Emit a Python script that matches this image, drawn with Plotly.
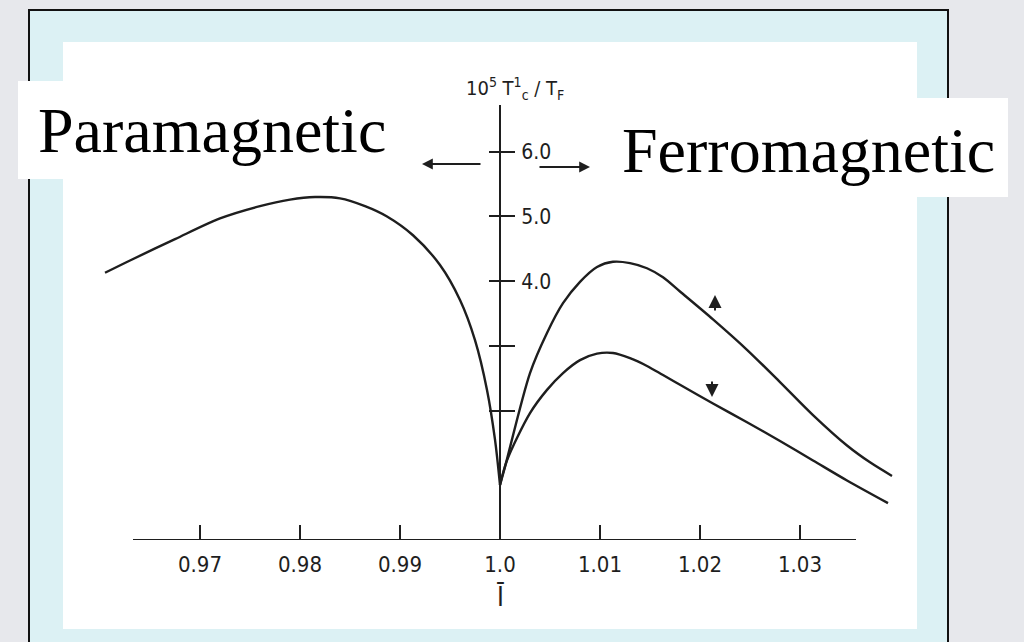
import plotly.graph_objects as go

W, H = 1024, 642

# ---- data ----
para_x = [0.9605, 0.9630, 0.9675, 0.9720, 0.9760, 0.9790, 0.9815, 0.9840, 0.9865, 0.9887,
          0.9913, 0.9940, 0.9960, 0.9975, 0.9987, 0.9995, 1.0]
para_y = [4.13, 4.32, 4.65, 4.97, 5.16, 5.26, 5.30, 5.28, 5.16, 5.00,
          4.71, 4.25, 3.71, 3.09, 2.32, 1.55, 0.85]

up_x = [1.0, 1.0005, 1.0030, 1.0047, 1.0063, 1.0080, 1.0097, 1.0113, 1.0130,
        1.0147, 1.0163, 1.0180, 1.0213, 1.0247, 1.0280, 1.0313, 1.0347, 1.0370, 1.0392]
up_y = [0.85, 1.13, 2.58, 3.20, 3.66, 3.99, 4.22, 4.30, 4.28,
        4.20, 4.06, 3.84, 3.41, 2.94, 2.44, 1.93, 1.46, 1.20, 0.99]

down_x = [1.0, 1.0007, 1.0030, 1.0047, 1.0063, 1.0080, 1.0097, 1.0113, 1.0130, 1.0147,
          1.0163, 1.0180, 1.0213, 1.0247, 1.0280, 1.0313, 1.0347, 1.0388]
down_y = [0.85, 1.23, 1.96, 2.32, 2.58, 2.78, 2.88, 2.89, 2.81, 2.69,
          2.55, 2.40, 2.11, 1.82, 1.53, 1.23, 0.92, 0.57]

x_ticks = [0.97, 0.98, 0.99, 1.0, 1.01, 1.02, 1.03]
x_tick_labels = ["0.97", "0.98", "0.99", "1.0", "1.01", "1.02", "1.03"]
y_ticks_labelled = [4, 5, 6]
y_tick_labels = ["4.0", "5.0", "6.0"]
y_ticks_plain = [2, 3]

x_axis_span = [0.9633, 1.0356]
y_top = 6.723

LINE = "#1e1e1e"
NARROW = "Liberation Sans Narrow, DejaVu Sans Condensed, Arial Narrow, sans-serif"
SERIF = "Liberation Serif, Times New Roman, serif"


def px(xp):
    return xp / W


def py(yp):
    return 1 - yp / H


fig = go.Figure()
for xs, ys in [(para_x, para_y), (up_x, up_y), (down_x, down_y)]:
    fig.add_trace(go.Scatter(x=xs, y=ys, mode="lines",
                             line=dict(color=LINE, width=2.4, shape="spline", smoothing=0.85),
                             hoverinfo="skip", showlegend=False))
# helper trace so the overlaid axis (left half of the crossing ticks) is drawn
fig.add_trace(go.Scatter(x=[1.0], y=[0], yaxis="y2", mode="markers",
                         marker=dict(opacity=0), hoverinfo="skip", showlegend=False))

shapes = [
    dict(type="rect", xref="paper", yref="paper", x0=px(29), x1=px(948), y0=py(660), y1=py(10),
         fillcolor="#dcf1f4", line=dict(color="#111", width=2), layer="below"),
    dict(type="rect", xref="paper", yref="paper", x0=px(63), x1=px(917), y0=py(629), y1=py(42),
         fillcolor="white", line=dict(width=0), layer="below"),
    dict(type="rect", xref="paper", yref="paper", x0=px(18), x1=px(400), y0=py(179), y1=py(81),
         fillcolor="white", line=dict(width=0), layer="below"),
    dict(type="rect", xref="paper", yref="paper", x0=px(605), x1=px(1008), y0=py(197), y1=py(98),
         fillcolor="white", line=dict(width=0), layer="below"),
    dict(type="line", xref="x", yref="y", x0=x_axis_span[0], x1=x_axis_span[1], y0=0, y1=0,
         line=dict(color=LINE, width=2)),
]

annotations = [
    dict(text="Paramagnetic", x=px(36), y=py(131), xref="paper", yref="paper",
         xanchor="left", yanchor="middle", showarrow=False,
         font=dict(family=SERIF, size=64, color="black")),
    dict(text="Ferromagnetic", x=px(620), y=py(150), xref="paper", yref="paper",
         xanchor="left", yanchor="middle", showarrow=False,
         font=dict(family=SERIF, size=64, color="black")),
    dict(text="10<sup>5</sup> T<sup>1</sup><sub>c</sub> / T<sub>F</sub>", x=px(515), y=py(88),
         xref="paper", yref="paper", xanchor="center", yanchor="middle", showarrow=False,
         font=dict(family=NARROW, size=20, color=LINE)),
    dict(text="Ī", x=1.0, y=py(597), xref="x", yref="paper", xanchor="center", yanchor="middle",
         showarrow=False, font=dict(family=NARROW, size=26, color=LINE)),
    dict(text="", x=px(422), y=py(164), xref="paper", yref="paper", ax=60, ay=0,
         showarrow=True, arrowhead=2, arrowsize=1.2, arrowwidth=1.8, arrowcolor=LINE),
    dict(text="", x=px(590), y=py(167), xref="paper", yref="paper", ax=-52, ay=0,
         showarrow=True, arrowhead=2, arrowsize=1.2, arrowwidth=1.8, arrowcolor=LINE),
    dict(text="", x=px(715), y=py(295), xref="paper", yref="paper", ax=0, ay=17,
         showarrow=True, arrowhead=2, arrowsize=1.3, arrowwidth=2, arrowcolor=LINE),
    dict(text="", x=px(712), y=py(397), xref="paper", yref="paper", ax=0, ay=-17,
         showarrow=True, arrowhead=2, arrowsize=1.3, arrowwidth=2, arrowcolor=LINE),
]

ydom = [1 - 540 / H, 1 - 105 / H]

fig.update_layout(
    width=W, height=H,
    margin=dict(l=0, r=0, t=0, b=0),
    paper_bgcolor="#e7e8ec",
    plot_bgcolor="rgba(0,0,0,0)",
    shapes=shapes,
    annotations=annotations,
    xaxis=dict(domain=[0, 1], range=[0.95, 0.95 + W / 10000], anchor="y",
               showline=False, showgrid=False, zeroline=False,
               ticks="inside", ticklen=15, tickwidth=2, tickcolor=LINE,
               tickvals=x_ticks, ticktext=x_tick_labels, ticklabelstandoff=9,
               tickfont=dict(family=NARROW, size=22, color=LINE)),
    yaxis=dict(domain=ydom, range=[0, y_top], anchor="free", position=500 / W, side="right",
               showline=True, linecolor=LINE, linewidth=2,
               showgrid=False, zeroline=False,
               ticks="outside", ticklen=14, tickwidth=2, tickcolor=LINE,
               tickvals=y_ticks_labelled, ticktext=y_tick_labels, ticklabelstandoff=2,
               minor=dict(tickvals=y_ticks_plain, ticks="outside", ticklen=14,
                          tickwidth=2, tickcolor=LINE, showgrid=False),
               tickfont=dict(family=NARROW, size=21, color=LINE)),
    yaxis2=dict(domain=ydom, range=[0, y_top], anchor="free", position=500 / W, side="right",
                overlaying="y", showline=False, showgrid=False, zeroline=False,
                ticks="inside", ticklen=11, tickwidth=2, tickcolor=LINE,
                tickvals=y_ticks_plain + y_ticks_labelled, showticklabels=False),
)

fig.write_html("out.html")
